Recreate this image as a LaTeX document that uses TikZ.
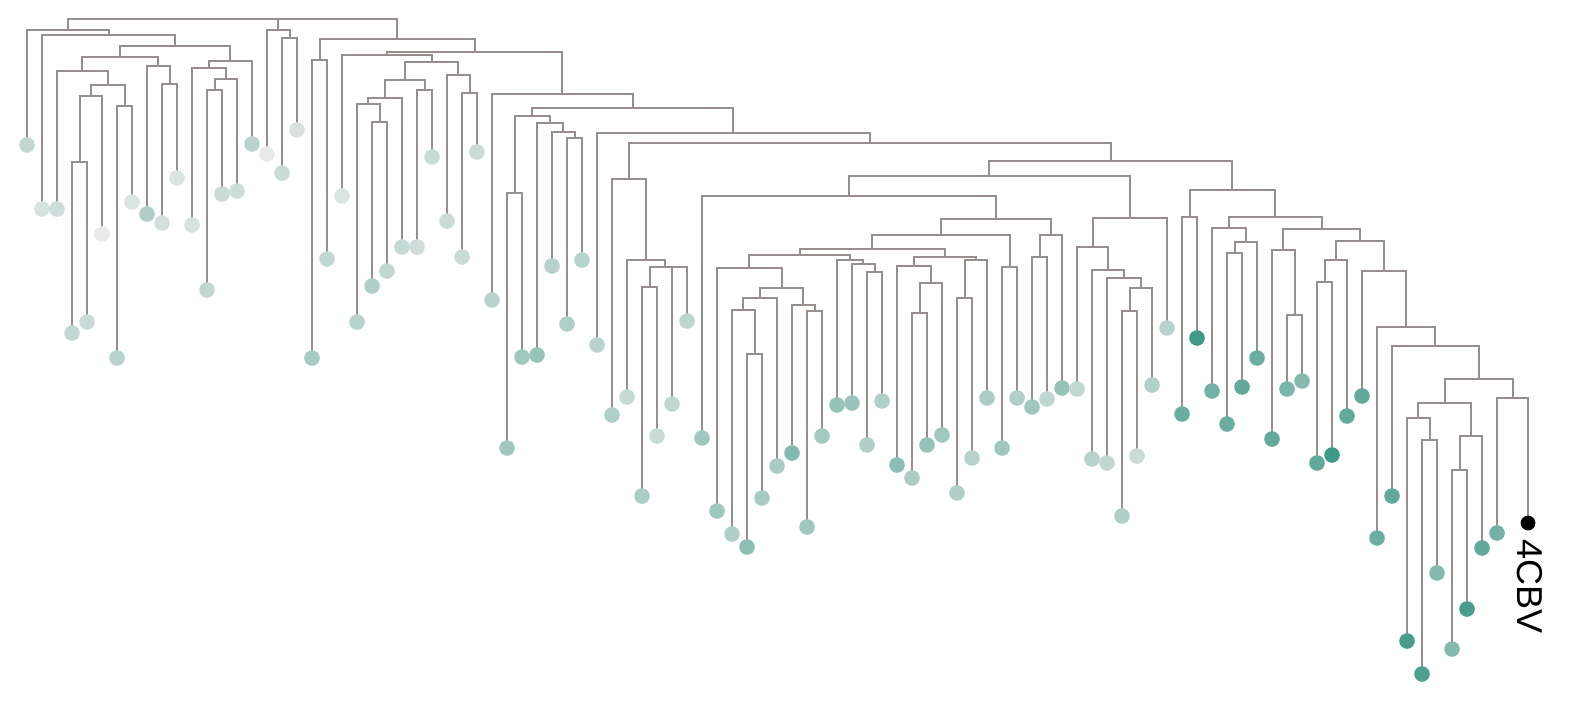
\documentclass[tikz,border=0pt]{standalone}
\usepackage{fontspec}
\setmainfont{Liberation Sans}
\pgfdeclarelayer{background}
\pgfsetlayers{background,main}
\definecolor{tealc}{RGB}{62,153,133}
\definecolor{greyc}{RGB}{236,236,236}
\definecolor{linec}{RGB}{150,143,141}
\tikzset{
  leafdot/.style={circle, inner sep=0pt, minimum size=7.8pt, draw=none},
  branch/.style={draw=linec, line width=1pt},
}
\begin{document}
\begin{tikzpicture}[x=0.5pt,y=-0.5pt]
\useasboundingbox (0,0) rectangle (1572,701);
% internal nodes (branch points)
\foreach \nn/\xx/\yy in {
R/232.5/19, A/67.85/30, A1/108.7/35, A2/175.4/46, A3/120.3/57, A4/230.4/61,
A5/82.3/71, A6/158.25/66, A7/107.6/85, A8/90.75/96, A9/124.5/106, A10/79.5/162,
A11/169.5/84, A12/208.9/68, A13/225.75/79, A14/214.5/90, B/278.25/30, B1/289.5/38,
C/397/39, C1/319.5/60, C2/474.6/52, C3/386.8/55, C4/562.4/94, C5/431.5/62,
C6/404.8/80, C7/458.25/75, C8/385.1/97.7, C9/424.5/90, C10/368.25/104, C11/379.5/122,
C12/469.5/93, C13/632.9/107.7, C14/532.3/115.7, C15/733.4/133.3, C16/514.5/193,
C17/550.1/123, C18/563.25/132.3, C19/574.5/138.3, C20/869.9/143.3, C21/628.9/179,
C22/1110.8/160.7, C23/645.75/260, C24/664.5/266.7, C25/649.5/287.3, C26/679.5/266.7,
C27/989.3/176, C28/1232.4/190, C29/848.9/195.7, C30/1129.7/217.7, C31/995.8/219.3,
C32/940.9/235, C33/1050.75/235, C34/872.3/249.3, C35/1009.5/266.7, C36/799.7/255,
C37/944.8/256.7, C38/749.3/268.3, C39/850.1/260, C40/781.7/288.3, C41/760.1/298.3,
C42/803.25/305, C43/743.25/310, C44/754.5/354, C45/814.5/310.7, C46/863.25/264.3,
C47/874.5/272.3, C48/913.9/265.7, C49/975.75/260, C50/930.75/282.7, C51/919.5/313.3,
C52/964.5/298.3, C53/1039.5/256.7, C54/1092.5/246.7, C55/1107.9/270, C56/1123.9/277.7,
C57/1140.75/287.7, C58/1129.5/310.7, C59/1189.5/216.7, C60/1275.25/217.3,
C61/1228.9/228.3, C62/1321.6/229.3, C63/1245.75/241.7, C64/1234.5/253.3,
C65/1283.25/250, C66/1359.9/240.7, C67/1294.5/315, C68/1335.75/260, C69/1384.06/271,
C70/1324.5/281.7, C71/1406.1/326.7, C72/1435.25/345.7, C73/1478.5/379,
C74/1444.5/403.3, C75/1512.5/398.3, C76/1418.25/417.7, C77/1470.75/436,
C78/1429.5/440, C79/1459.5/470}
  \coordinate (\nn) at (\xx,\yy);
% leaves
\foreach \i/\yy/\lv in {
0/145/25, 1/209/12, 2/209/18, 3/333/25, 4/322/20, 5/234/3, 6/358/30, 7/202/10,
8/214/35, 9/223/15, 10/178/10, 11/225/12, 12/290/25, 13/194/20, 14/191/18, 15/144/30,
16/154/3, 17/173/20, 18/130/12, 19/358/40, 20/259/25, 21/196/10, 22/322/30, 23/286/35,
24/271/25, 25/247/22, 26/247/18, 27/157/20, 28/221/20, 29/257/20, 30/152/20, 31/300/30,
32/448/45, 33/357/45, 34/355/50, 35/266/30, 36/324/35, 37/260/30, 38/345/30, 39/415/35,
40/397/22, 41/496/38, 42/436/20, 43/404/25, 44/321/28, 45/438/45, 46/511/45, 47/534/35,
48/547/55, 49/498/40, 50/466/38, 51/453/60, 52/527/45, 53/436/42, 54/405/50, 55/403/48,
56/445/35, 57/401/35, 58/465/55, 59/478/38, 60/445/50, 61/435/45, 62/493/35, 63/458/30,
64/398/38, 65/448/45, 66/398/35, 67/407/45, 68/399/25, 69/388/50, 70/389/25, 71/459/30,
72/463/25, 73/516/35, 74/456/20, 75/385/35, 76/328/30, 77/414/75, 78/338/100, 79/391/70,
80/424/75, 81/387/80, 82/358/75, 83/439/80, 84/389/65, 85/381/60, 86/463/80, 87/455/100,
88/416/80, 89/396/80, 90/538/75, 91/496/80, 92/641/95, 93/674/90, 94/573/60, 95/649/60,
96/609/95, 97/548/80, 98/533/70}
  \node[leafdot, fill=tealc!\lv!greyc] (l\i) at ({27+15*\i},\yy) {};
\node[leafdot, fill=black, minimum size=7.4pt] (l99) at (1528,523) {};
\node[font=\fontsize{18}{20}\selectfont, rotate=-90, anchor=west, inner sep=0pt] (lab) at (1529.5,539) {4CBV};
% branches
\begin{pgfonlayer}{background}
\foreach \pa/\ch in {
R/A, R/B, R/C, A/l0, A/A1, A1/l1, A1/A2, A2/A3, A2/A4, A3/A5, A3/A6, A5/l2, A5/A7,
A7/A8, A7/A9, A8/A10, A8/l5, A10/l3, A10/l4, A9/l6, A9/l7, A6/l8, A6/A11, A11/l9,
A11/l10, A4/A12, A4/l15, A12/l11, A12/A13, A13/A14, A13/l14, A14/l12, A14/l13,
B/l16, B/B1, B1/l17, B1/l18, C/C1, C/C2, C1/l19, C1/l20, C2/C3, C2/C4, C3/l21, C3/C5,
C5/C6, C5/C7, C6/C8, C6/C9, C8/C10, C8/l25, C10/l22, C10/C11, C11/l23, C11/l24,
C9/l26, C9/l27, C7/l28, C7/C12, C12/l29, C12/l30, C4/l31, C4/C13, C13/C14, C13/C15,
C14/C16, C14/C17, C16/l32, C16/l33, C17/l34, C17/C18, C18/l35, C18/C19, C19/l36,
C19/l37, C15/l38, C15/C20, C20/C21, C20/C22, C21/l39, C21/C23, C23/l40, C23/C24,
C24/C25, C24/C26, C25/l41, C25/l42, C26/l43, C26/l44, C22/C27, C22/C28, C27/C29,
C27/C30, C29/l45, C29/C31, C31/C32, C31/C33, C32/C34, C32/C35, C34/C36, C34/C37,
C36/C38, C36/C39, C38/l46, C38/C40, C40/C41, C40/C42, C41/C43, C41/l50, C43/l47,
C43/C44, C44/l48, C44/l49, C42/l51, C42/C45, C45/l52, C45/l53, C39/l54, C39/C46,
C46/l55, C46/C47, C47/l56, C47/l57, C37/C48, C37/C49, C48/l58, C48/C50, C50/C51,
C50/l61, C51/l59, C51/l60, C49/C52, C49/l64, C52/l62, C52/l63, C35/l65, C35/l66,
C33/C53, C33/l69, C53/l67, C53/l68, C30/C54, C30/l76, C54/l70, C54/C55, C55/l71,
C55/C56, C56/l72, C56/C57, C57/C58, C57/l75, C58/l73, C58/l74, C28/C59, C28/C60,
C59/l77, C59/l78, C60/C61, C60/C62, C61/l79, C61/C63, C63/C64, C63/l82, C64/l80,
C64/l81, C62/C65, C62/C66, C65/l83, C65/C67, C67/l84, C67/l85, C66/C68, C66/C69,
C68/C70, C68/l88, C70/l86, C70/l87, C69/l89, C69/C71, C71/l90, C71/C72, C72/l91,
C72/C73, C73/C74, C73/C75, C74/C76, C74/C77, C76/l92, C76/C78, C78/l93, C78/l94,
C77/C79, C77/l97, C79/l95, C79/l96, C75/l98, C75/l99}
  \draw[branch] (\pa) -| (\ch.center);
\end{pgfonlayer}
\end{tikzpicture}
\end{document}
